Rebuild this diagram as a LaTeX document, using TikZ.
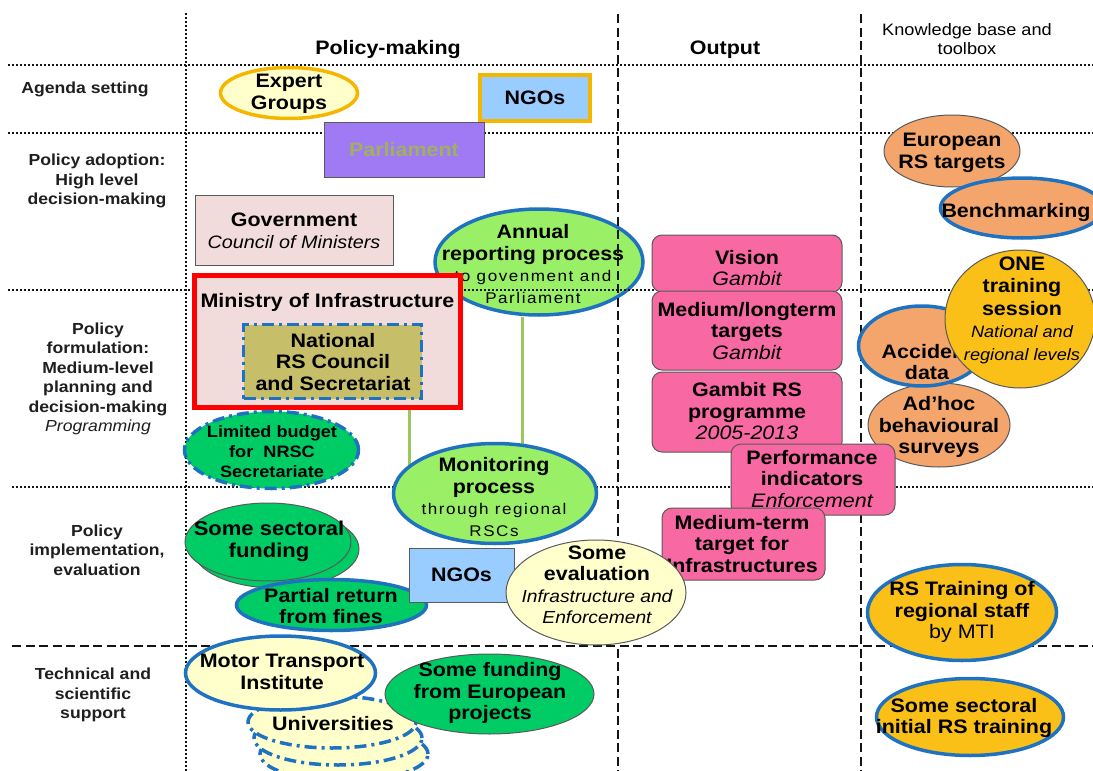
\documentclass[tikz,border=0pt]{standalone}
\usepackage{fontspec}
\setmainfont{Liberation Sans}[FakeStretch=1.1]
\newfontfamily\spcfont{Liberation Sans}[FakeStretch=1.1,LetterSpace=10]
\usetikzlibrary{shapes.geometric,backgrounds}
\definecolor{lyel}{RGB}{255,255,204}
\definecolor{goldb}{RGB}{245,182,0}
\definecolor{lblue}{RGB}{153,204,255}
\definecolor{purp}{RGB}{160,122,245}
\definecolor{olv}{RGB}{160,176,96}
\definecolor{rosy}{RGB}{242,220,219}
\definecolor{khaki}{RGB}{198,190,104}
\definecolor{bbl}{RGB}{31,114,192}
\definecolor{grn}{RGB}{0,204,102}
\definecolor{lgrn}{RGB}{153,240,102}
\definecolor{pnk}{RGB}{248,104,162}
\definecolor{orng}{RGB}{244,165,108}
\definecolor{goldf}{RGB}{250,192,24}
\definecolor{cgrn}{RGB}{155,200,90}
\definecolor{edgec}{RGB}{90,90,90}
\definecolor{gridc}{RGB}{20,20,20}
\newcommand\ital[2][19.5]{{\mdseries\itshape\fontsize{#1}{21.5}\selectfont #2}}
\newcommand\regl[1]{{\mdseries #1}}
\newcommand\spcd[1]{{\mdseries\spcfont\fontsize{15.5}{20}\selectfont #1}}
\newcommand\shp[8]{\node[#2, minimum width=#4, minimum height=#5] (#1) at (#3) {};\node[txt,#7] (#1-t) at (#6) {#8};}
\tikzset{
 dotln/.style={gridc, line width=2.2pt, dash pattern=on 2.2pt off 1.8pt},
 dashln/.style={gridc, line width=2.6pt, dash pattern=on 9pt off 4.5pt},
 ell/.style={ellipse, inner sep=0pt},
 box/.style={rectangle, inner sep=0pt},
 pbox/.style={rectangle, rounded corners=10pt, fill=pnk, draw=edgec, line width=1pt, inner sep=0pt},
 thinb/.style={draw=edgec, line width=1pt},
 blueb/.style={draw=bbl, line width=3.5pt},
 dashdot/.style={draw=bbl, line width=3.5pt, dash pattern=on 12pt off 5pt on 3pt off 5pt},
 txt/.style={align=center, inner sep=0pt, text=black, font=\fontsize{19.5}{21.5}\selectfont\bfseries},
 rowlab/.style={align=center, inner sep=0pt, text=black!88, font=\fontsize{16}{19.5}\selectfont\bfseries},
 conn/.style={cgrn, line width=3pt},
}
\begin{document}
\begin{tikzpicture}[x=1pt,y=-1pt]
\useasboundingbox (0,0) rectangle (1093,771);

% annual reporting (below grid lines)
\shp{annual}{ell, fill=lgrn, blueb}{539,262}{208pt}{106pt}{533,264}{}{Annual\\reporting process\\\spcd{to govenment and}\\\spcd{Parliament}}

% grid
\draw[dotln] (8,65) -- (1093,65);
\draw[dotln] (8,133) -- (1093,133);
\draw[dotln] (8,290) -- (1093,290);
\draw[dotln] (12,487) -- (1093,487);
\draw[dashln] (12,646) -- (1093,646);
\draw[dotln] (186,13) -- (186,771);
\draw[dashln] (618,14) -- (618,771);
\draw[dashln] (861,14) -- (861,771);

% headers
\node[txt] (hpol) at (388,50) {Policy-making};
\node[txt] (hout) at (725,50) {Output};
\node[txt, font=\fontsize{16.5}{19}\selectfont] (hkb) at (967,39) {Knowledge base and\\toolbox};

% row labels
\node[rowlab] (r1) at (85,89) {Agenda setting};
\node[rowlab] (r2) at (97,181) {Policy adoption:\\High level\\decision-making};
\node[rowlab] (r3) at (98,379) {Policy\\formulation:\\Medium-level\\planning and\\decision-making\\{\mdseries\itshape Programming}};
\node[rowlab] (r4) at (97,550) {Policy\\implementation,\\evaluation};
\node[rowlab] (r5) at (93,695) {Technical and\\scientific\\support};

% policy-making column
\shp{eg}{ell, fill=lyel, draw=goldb, line width=3.5pt}{289,93}{137pt}{51pt}{289,94}{}{Expert\\Groups}
\shp{ngoa}{box, fill=lblue, draw=goldb, line width=3.5pt}{535,98}{110pt}{46pt}{535,98}{}{NGOs}
\shp{parl}{box, fill=purp, thinb}{404,149.5}{160pt}{55pt}{404,150}{text=olv}{Parliament}
\shp{gov}{box, fill=rosy, thinb}{294,230}{198pt}{70pt}{294,231}{}{Government\\\ital[18]{Council of Ministers}}
\shp{mins}{box, fill=rosy, draw=red, line width=5pt}{327.5,341.5}{266pt}{132pt}{327.5,302}{}{Ministry of Infrastructure}
\shp{nrsc}{box, fill=khaki, dashdot}{332.5,361.5}{178pt}{74pt}{333,362}{}{National\\RS Council\\and Secretariat}
\shp{lim}{ell, fill=grn, dashdot}{271.5,450}{174pt}{77pt}{272,452}{font=\fontsize{16.5}{20}\selectfont\bfseries}{Limited budget\\for\ \ NRSC\\Secretariate}
\shp{mon}{ell, fill=lgrn, blueb}{495,493.5}{203pt}{100pt}{494,497}{}{Monitoring\\process\\\spcd{through regional}\\\spcd{RSCs}}
\node[ell, fill=grn, thinb, minimum width=166pt, minimum height=78pt] (secb) at (276,549) {};
\shp{secf}{ell, fill=grn, thinb}{268,542}{166pt}{78pt}{269,541}{font=\fontsize{20}{22}\selectfont\bfseries}{Some sectoral\\funding}
\shp{part}{ell, fill=grn, blueb}{331.5,605}{190pt}{51pt}{331,606}{}{Partial return\\from fines}
\shp{ngob}{box, fill=lblue, thinb}{461.5,575}{105pt}{54pt}{461.5,575}{}{NGOs}
\node[ell, fill=lyel, dashdot, minimum width=168pt, minimum height=54pt] (univc) at (344,754) {};
\node[ell, fill=lyel, dashdot, minimum width=168pt, minimum height=54pt] (univb) at (338,738) {};
\shp{univ}{ell, fill=lyel, dashdot}{332,722}{168pt}{52pt}{333,724}{}{Universities}
\shp{mti}{ell, fill=lyel, blueb}{280.5,673}{190pt}{74pt}{282,672}{}{Motor Transport\\Institute}
\shp{euf}{ell, fill=grn, thinb}{489.5,694}{209pt}{80pt}{490,693}{}{Some funding\\from European\\projects}

% output column
\shp{vis}{pbox}{747,263.5}{190pt}{57pt}{747,268}{}{Vision\\\ital{Gambit}}
\shp{medl}{pbox}{747,330.5}{190pt}{79pt}{747,331}{}{Medium/longterm\\targets\\\ital{Gambit}}
\shp{gam}{pbox}{747,412}{190pt}{80pt}{747,411.5}{}{Gambit RS\\programme\\\ital{2005-2013}}

% knowledge column
\shp{eurs}{ell, fill=orng, thinb}{952,151}{136pt}{72pt}{952,153}{}{European\\RS targets}
\shp{bench}{ell, fill=orng, blueb}{1022,208}{163pt}{60pt}{1016,212}{}{Benchmarking}
\shp{adh}{ell, fill=orng, thinb}{939,425}{142pt}{84pt}{939,427}{}{Ad’hoc\\behavioural\\surveys}
\shp{acc}{ell, fill=orng, blueb}{922,346}{127pt}{80pt}{927,362}{}{Accident\\data}
\shp{one}{ell, fill=goldf, thinb}{1020,319}{150pt}{138pt}{1022,310}{font=\fontsize{19.5}{22.5}\selectfont\bfseries}{ONE\\training\\session\\\ital[16.5]{National and}\\\ital[16.5]{regional levels}}

\shp{perf}{pbox}{813,479.5}{164pt}{71pt}{812,479}{}{Performance\\indicators\\\ital{Enforcement}}
\shp{medt}{pbox}{743.5,544}{163pt}{72pt}{742,544}{}{Medium-term\\target for\\Infrastructures}
\shp{sev}{ell, fill=lyel, thinb}{596,592.5}{180pt}{105pt}{597,585}{}{Some\\evaluation\\\ital[17.5]{Infrastructure and}\\\ital[17.5]{Enforcement}}
\shp{rst}{ell, fill=goldf, blueb}{962,612.5}{189pt}{96pt}{962,612}{}{RS Training of\\regional staff\\\regl{by MTI}}
\shp{ini}{ell, fill=goldf, blueb}{970,717}{187pt}{77pt}{964,718}{}{Some sectoral\\initial RS training}

% connectors
\coordinate (k1) at (409,0);
\coordinate (k2) at (522,0);
\begin{pgfonlayer}{background}
\fill[white] (0,0) rectangle (1093,771);
\draw[conn] (nrsc.south -| k1) -- (k1 |- mon.center);
\draw[conn] (annual.south -| k2) -- (k2 |- mon.center);
\end{pgfonlayer}
\end{tikzpicture}
\end{document}
